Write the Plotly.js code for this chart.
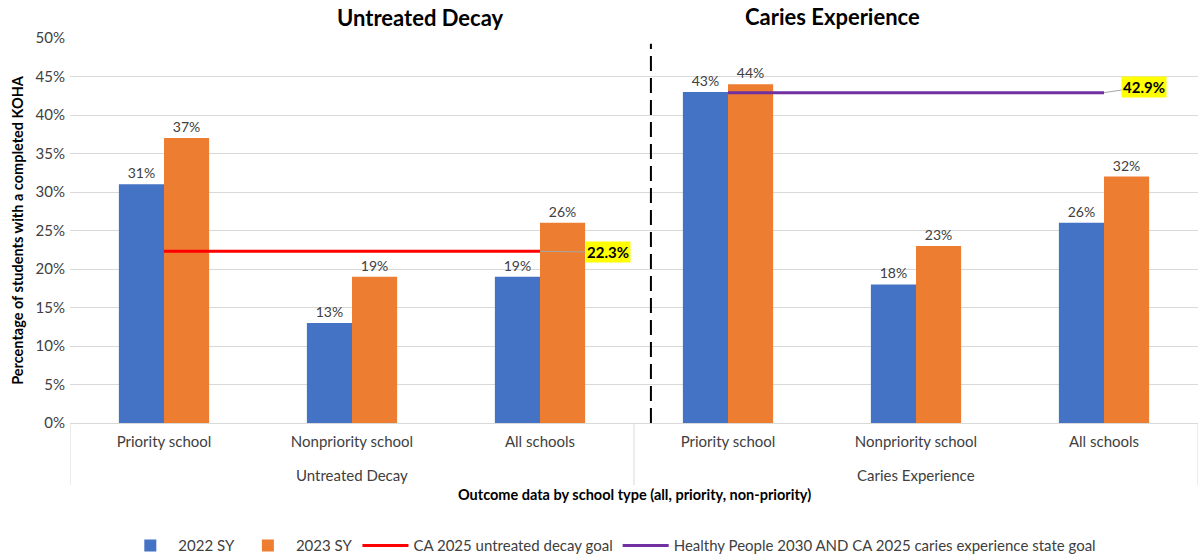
<!DOCTYPE html>
<html><head><meta charset="utf-8">
<script src="https://cdn.plot.ly/plotly-3.0.1.min.js"></script>
<style>body{margin:0;background:#fff}#chart{width:1202px;height:557px}</style>
</head><body><div id="chart"></div>
<script>
const groups = ["Untreated Decay","Caries Experience"];
const categories = ["Priority school","Nonpriority school","All schools","Priority school","Nonpriority school","All schools"];
const sy2022 = [31,13,19,43,18,26];
const sy2023 = [37,19,26,44,23,32];
const decayGoal = 22.3;
const cariesGoal = 42.9;
const yTicks = [0,5,10,15,20,25,30,35,40,45,50];

const xs = categories.map((c,i)=>i);
const FONT = "Lato, 'Open Sans', sans-serif";

const traces = [
  {type:"bar", name:"2022 SY", x:xs, y:sy2022, marker:{color:"#4472C4"},
   text:sy2022.map(v=>v+"%"), textposition:"outside", cliponaxis:false,
   outsidetextfont:{size:14,color:"#404040",family:FONT}, hoverinfo:"skip"},
  {type:"bar", name:"2023 SY", x:xs, y:sy2023, marker:{color:"#ED7D31"},
   text:sy2023.map(v=>v+"%"), textposition:"outside", cliponaxis:false,
   outsidetextfont:{size:14,color:"#404040",family:FONT}, hoverinfo:"skip"},
  {type:"scatter", mode:"lines", name:"CA 2025 untreated decay goal",
   x:[xs[0],xs[2]], y:[decayGoal,decayGoal], line:{color:"#FF0000",width:3}},
  {type:"scatter", mode:"lines", name:"Healthy People 2030 AND CA 2025 caries experience state goal",
   x:[xs[3],xs[5]], y:[cariesGoal,cariesGoal], line:{color:"#7030A0",width:3}}
];

const layout = {
  width:1202, height:557,
  margin:{l:70,r:4,t:38,b:134},
  paper_bgcolor:"#fff", plot_bgcolor:"#fff",
  font:{family:FONT,color:"#404040",size:15},
  barmode:"group", bargap:0.52, bargroupgap:0,
  showlegend:true,
  legend:{orientation:"h", xref:"container", yref:"container", x:0.509, xanchor:"center", y:0.02, yanchor:"middle",
          font:{size:15,color:"#404040"}, traceorder:"normal", itemwidth:46},
  xaxis:{range:[-0.5,5.5], tickvals:xs, ticktext:categories, showgrid:false, zeroline:false,
         showline:false, ticks:"", ticklabelstandoff:8, automargin:false,
         tickfont:{size:15,color:"#404040"}, fixedrange:true},
  yaxis:{range:[0,50], tickvals:yTicks, ticktext:yTicks.map(v=>v+"%"), showgrid:true, automargin:false,
         gridcolor:"#d9d9d9", gridwidth:1, zeroline:true, zerolinecolor:"#d9d9d9", zerolinewidth:1,
         showline:false, ticks:"", tickfont:{size:15,color:"#404040"}, ticklabelstandoff:4,
         title:{text:"<b>Percentage of students with a completed KOHA</b>", font:{size:14.5,color:"#000"}, standoff:8}},
  shapes:[
    {type:"line", xref:"x", yref:"paper", x0:-0.5, x1:-0.5, y0:0, y1:-0.161, line:{color:"#d9d9d9",width:1}},
    {type:"line", xref:"x", yref:"paper", x0:2.5, x1:2.5, y0:0, y1:-0.161, line:{color:"#d9d9d9",width:1}},
    {type:"line", xref:"x", yref:"paper", x0:5.5, x1:5.5, y0:0, y1:-0.161, line:{color:"#d9d9d9",width:1}},
    {type:"line", xref:"x", yref:"paper", x0:2.59, x1:2.59, y0:0, y1:0.985, line:{color:"#000",width:2,dash:"15px,7px"}}
  ],
  annotations:[
    {xref:"paper", yref:"paper", x:0.235, y:1.052, text:"<b>Untreated Decay</b>", showarrow:false,
     font:{size:22,color:"#000"}, yanchor:"middle"},
    {xref:"paper", yref:"paper", x:0.755, y:1.057, text:"<b>Caries Experience</b>", showarrow:false,
     font:{size:22,color:"#000"}, yanchor:"middle"},
    {xref:"x", yref:"paper", x:1, y:-0.135, text:groups[0], showarrow:false, font:{size:15,color:"#404040"}, yanchor:"middle"},
    {xref:"x", yref:"paper", x:4, y:-0.135, text:groups[1], showarrow:false, font:{size:15,color:"#404040"}, yanchor:"middle"},
    {xref:"paper", yref:"paper", x:0.5, y:-0.187, text:"<b>Outcome data by school type (all, priority, non-priority)</b>",
     showarrow:false, font:{size:14.5,color:"#000"}, yanchor:"middle"},
    {xref:"x", yref:"y", x:xs[2], y:decayGoal, text:"<b>"+decayGoal+"%</b>", showarrow:true, arrowhead:0,
     arrowwidth:1, arrowcolor:"#a6a6a6", ax:68, ay:1, bgcolor:"#FFFF00", borderpad:1,
     font:{size:15,color:"#000"}, standoff:0},
    {xref:"x", yref:"y", x:xs[5], y:cariesGoal, text:"<b>"+cariesGoal+"%</b>", showarrow:true, arrowhead:0,
     arrowwidth:1, arrowcolor:"#a6a6a6", ax:40, ay:-6, bgcolor:"#FFFF00", borderpad:1,
     font:{size:15,color:"#000"}, standoff:0}
  ]
};
Plotly.newPlot("chart", traces, layout, {displayModeBar:false, staticPlot:true});
</script></body></html>
